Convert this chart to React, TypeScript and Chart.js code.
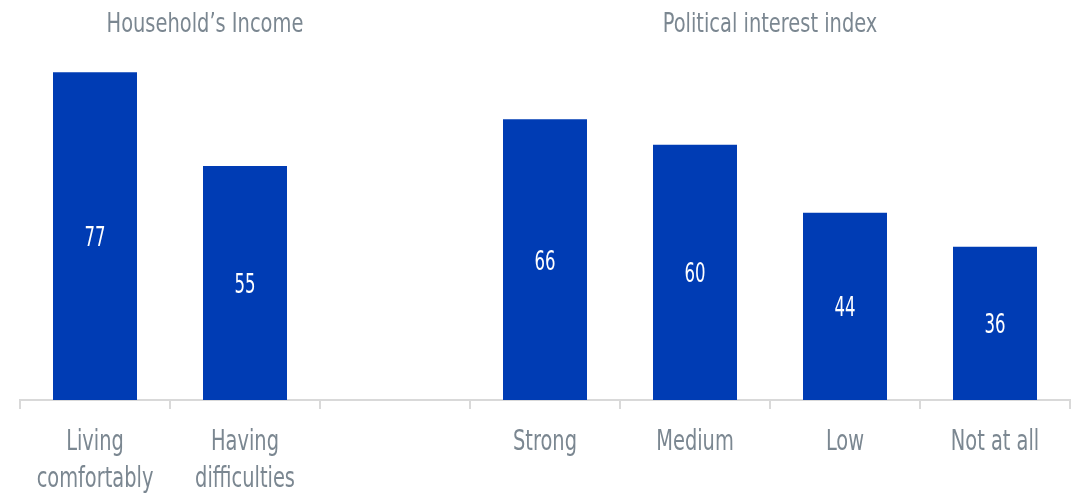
import React, { useEffect, useRef } from "react";
import { Chart, registerables } from "chart.js";

Chart.register(...registerables);

const categories: string[][] = [
  ["Living", "comfortably"],
  ["Having", "difficulties"],
  [""],
  ["Strong"],
  ["Medium"],
  ["Low"],
  ["Not at all"],
];
const values: (number | null)[] = [77, 55, null, 66, 60, 44, 36];
const groupTitles: string[] = ["Household\u2019s Income", "Political interest index"];

const FONT = "'DejaVu Sans Condensed', 'DejaVu Sans', sans-serif";
const BAR = "#003cb4";
const GREY_TEXT = "#7b8791";
const AXIS = "#d9d9d9";

function drawNarrow(ctx: CanvasRenderingContext2D, text: string, x: number, y: number, sx: number) {
  ctx.save();
  ctx.translate(x, y);
  ctx.scale(sx, 1);
  ctx.fillText(text, 0, 0);
  ctx.restore();
}

const overlayPlugin = {
  id: "overlay",
  afterDraw(chart: any) {
    const ctx: CanvasRenderingContext2D = chart.ctx;
    const meta = chart.getDatasetMeta(0);
    const xs = chart.scales.x;
    ctx.save();
    ctx.textAlign = "center";
    ctx.textBaseline = "alphabetic";

    // value labels
    ctx.fillStyle = "#ffffff";
    ctx.font = `27px ${FONT}`;
    meta.data.forEach((el: any, i: number) => {
      const v = values[i];
      if (v == null) return;
      const { x, y, base } = el.getProps(["x", "y", "base"], true);
      drawNarrow(ctx, String(v), x, (y + base) / 2 + 10, 0.68);
    });

    // group titles
    const anchors = [0.733, 4.5];
    ctx.fillStyle = GREY_TEXT;
    ctx.font = `27px ${FONT}`;
    groupTitles.forEach((t, i) => {
      drawNarrow(ctx, t, xs.getPixelForValue(anchors[i]), 32, 0.8);
    });

    // category labels
    ctx.font = `28px ${FONT}`;
    const axisY = xs.top;
    categories.forEach((lines, i) => {
      const x = xs.getPixelForValue(i);
      lines.forEach((line, j) => {
        drawNarrow(ctx, line, x, axisY + 50 + j * 37, 0.77);
      });
    });
    ctx.restore();
  },
};

export default function App() {
  const ref = useRef<HTMLCanvasElement>(null);
  useEffect(() => {
    document.body.style.margin = "0";
    const chart = new Chart(ref.current!, {
      type: "bar",
      data: {
        labels: categories.map((l) => l.join(" ")),
        datasets: [
          {
            data: values,
            backgroundColor: BAR,
            categoryPercentage: 1,
            barPercentage: 0.56,
          },
        ],
      },
      options: {
        responsive: false,
        animation: false,
        layout: { padding: { left: 20, right: 9, top: 17, bottom: 0 } },
        plugins: { legend: { display: false }, tooltip: { enabled: false } },
        scales: {
          y: { display: false, min: 0, max: 90 },
          x: {
            grid: {
              drawOnChartArea: false,
              drawTicks: true,
              tickLength: 9,
              color: AXIS,
              lineWidth: 2,
            },
            border: { color: AXIS, width: 2 },
            ticks: { display: false, autoSkip: false },
            afterFit: (s: any) => {
              s.height = 95;
            },
          },
        },
      },
      plugins: [overlayPlugin],
    });
    return () => chart.destroy();
  }, []);
  return (
    <div style={{ position: "absolute", left: 0, top: 0, width: 1079, height: 495 }}>
      <canvas ref={ref} width={1079} height={495} />
    </div>
  );
}
